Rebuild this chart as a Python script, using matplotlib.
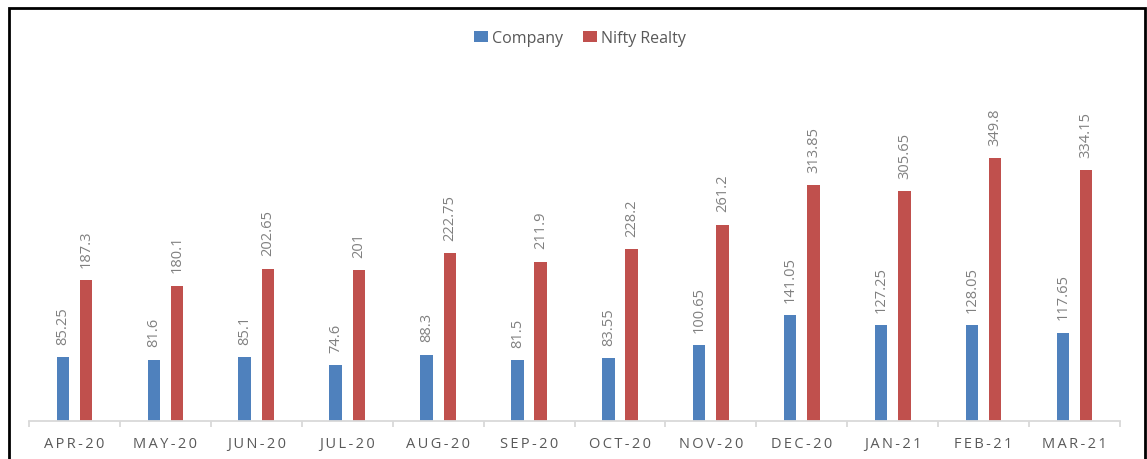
import matplotlib.pyplot as plt
import numpy as np
from matplotlib.patches import Patch, Rectangle

months = ["APR-20", "MAY-20", "JUN-20", "JUL-20", "AUG-20", "SEP-20",
          "OCT-20", "NOV-20", "DEC-20", "JAN-21", "FEB-21", "MAR-21"]
company = [85.25, 81.6, 85.1, 74.6, 88.3, 81.5, 83.55, 100.65, 141.05, 127.25, 128.05, 117.65]
nifty_realty = [187.3, 180.1, 202.65, 201, 222.75, 211.9, 228.2, 261.2, 313.85, 305.65, 349.8, 334.15]
company_labels = ["85.25", "81.6", "85.1", "74.6", "88.3", "81.5", "83.55", "100.65",
                  "141.05", "127.25", "128.05", "117.65"]
nifty_labels = ["187.3", "180.1", "202.65", "201", "222.75", "211.9", "228.2", "261.2",
                "313.85", "305.65", "349.8", "334.15"]

plt.rcParams["font.family"] = ["Open Sans", "DejaVu Sans"]

blue = "#4F81BD"
red = "#C0504D"
label_grey = "#808080"
tick_grey = "#595959"

W, H = 1147, 460
fig = plt.figure(figsize=(W / 100, H / 100), dpi=100)
fig.patch.set_facecolor("white")

# axes placed in pixel terms
left, right, bottom, top = 29, 1120, 422, 60
ax = fig.add_axes([left / W, 1 - bottom / H, (right - left) / W, (bottom - top) / H])

x = np.arange(len(months))
bw = 0.137
off = 0.128
ax.bar(x - off, company, bw, color=blue, label="Company")
ax.bar(x + off, nifty_realty, bw, color=red, label="Nifty Realty")

for xi, v, s in zip(x - off, company, company_labels):
    ax.annotate(s, (xi, v), xytext=(0, 9.5), textcoords="offset points",
                rotation=90, ha="center", va="bottom", fontsize=10.5, color=label_grey)
for xi, v, s in zip(x + off, nifty_realty, nifty_labels):
    ax.annotate(s, (xi, v), xytext=(0, 9.5), textcoords="offset points",
                rotation=90, ha="center", va="bottom", fontsize=10.5, color=label_grey)

ax.set_xlim(-0.5, len(months) - 0.5)
ax.set_ylim(0, (bottom - top) / 0.752)

for s in ["top", "right", "left"]:
    ax.spines[s].set_visible(False)
ax.spines["bottom"].set_color("#d9d9d9")
ax.spines["bottom"].set_linewidth(1.3)
ax.set_yticks([])

# boundary ticks (major) and labels at centres (minor)
ax.set_xticks(np.arange(len(months) + 1) - 0.5)
ax.set_xticklabels([])
ax.tick_params(axis="x", which="major", length=4, width=1.3, color="#d9d9d9")
ax.set_xticks(x, minor=True)
spaced = ["\u2009".join(m) for m in months]
ax.set_xticklabels(spaced, minor=True)
ax.tick_params(axis="x", which="minor", length=0, pad=11, labelsize=10.5, labelcolor=tick_grey)

handles = [Patch(facecolor=blue, edgecolor="none"), Patch(facecolor=red, edgecolor="none")]
fig.legend(handles, ["Company", "Nifty Realty"], loc="center",
           bbox_to_anchor=(580 / W, 1 - 39 / H), ncol=2, frameon=False,
           fontsize=11.5, labelcolor=tick_grey, handlelength=0.9, handleheight=0.65,
           handletextpad=0.25, columnspacing=1.2)

# black frame around the chart
fig.patches.append(Rectangle((8.5 / W, -0.05), (1144.5 - 8.5) / W, 1.05 - 8.5 / H,
                             transform=fig.transFigure, fill=False,
                             edgecolor="black", linewidth=2))

fig.savefig("out.png", dpi=100)
